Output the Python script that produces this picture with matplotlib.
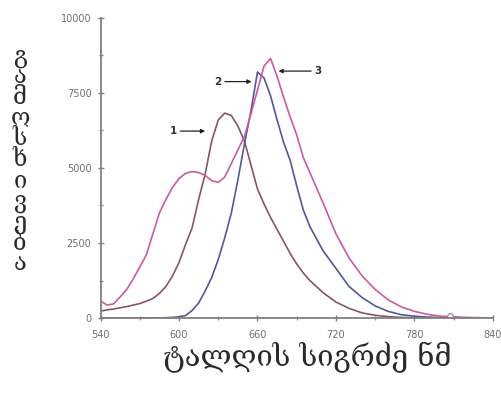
import matplotlib.pyplot as plt
from matplotlib.ticker import MultipleLocator

# --- dados ---
wavelength = [540, 545, 550, 555, 560, 565, 570, 575, 580, 585, 590, 595, 600, 605,
              610, 615, 620, 625, 630, 635, 640, 645, 650, 655, 660, 665, 670, 675,
              680, 685, 690, 695, 700, 710, 720, 730, 740, 750, 760, 770, 780, 790,
              800, 810, 820, 830, 840]

curve1 = [230, 270, 300, 340, 380, 430, 480, 560, 650, 820, 1050, 1400, 1850, 2450,
          3000, 3950, 4800, 5900, 6600, 6830, 6750, 6400, 5900, 5100, 4300, 3800, 3350, 2950,
          2550, 2150, 1800, 1500, 1250, 850, 530, 320, 170, 90, 45, 20, 10, 5,
          5, 5, 5, 5, 5]

curve2 = [0, 0, 0, 0, 0, 0, 0, 0, 0, 5, 10, 20, 40, 80,
          250, 500, 900, 1350, 1950, 2680, 3500, 4600, 5800, 6900, 8200, 8000, 7400, 6600,
          5850, 5250, 4400, 3600, 3050, 2250, 1650, 1050, 680, 400, 220, 110, 60, 30,
          15, 5, 5, 5, 5]

curve3 = [570, 430, 470, 700, 950, 1300, 1700, 2100, 2800, 3500, 3950, 4350, 4650, 4820,
          4880, 4850, 4750, 4580, 4520, 4700, 5150, 5600, 6050, 6800, 7600, 8400, 8650, 8050,
          7350, 6700, 6100, 5350, 4850, 3850, 2800, 2000, 1400, 950, 600, 370, 220, 120,
          60, 40, 20, 10, 5]

marker_x = [807]
marker_y = [60]

labels = ['1', '2', '3']
label_x = [595.5, 630, 706.5]
label_y = [6230, 7880, 8230]
arrow_from = [601, 635, 701]
arrow_to = [620, 655.5, 676]

ylabel_txt = 'გამოსხივება'
xlabel_txt = 'ტალღის სიგრძე ნმ'

fig = plt.figure(figsize=(5.01, 3.99), dpi=100)
ax = fig.add_axes([0.2006, 0.2030, 0.7834, 0.7519])

ax.plot(wavelength, curve1, color='#8a5560', lw=1.2)
ax.plot(wavelength, curve2, color='#55579a', lw=1.2)
ax.plot(wavelength, curve3, color='#cc5aa0', lw=1.2)
ax.plot(marker_x, marker_y, 'o', mfc='white', mec='#b080b0', ms=4, mew=1)

for t, tx, ty, a0, a1 in zip(labels, label_x, label_y, arrow_from, arrow_to):
    ax.text(tx, ty, t, ha='center', va='center', fontsize=7.5, color='#333333',
            fontweight='bold')
    ax.annotate('', xy=(a1, ty), xytext=(a0, ty),
                arrowprops=dict(arrowstyle='-|>', color='#222222', lw=0.9,
                                mutation_scale=6, shrinkA=0, shrinkB=0))

ax.set_xlim(540, 840)
ax.set_ylim(0, 10000)
ax.set_xticks([540, 600, 660, 720, 780, 840])
ax.set_yticks([0, 2500, 5000, 7500, 10000])
ax.xaxis.set_minor_locator(MultipleLocator(30))
ax.yaxis.set_minor_locator(MultipleLocator(1250))

for s in ['top', 'right']:
    ax.spines[s].set_visible(False)
for s in ['left', 'bottom']:
    ax.spines[s].set_color('#808080')
    ax.spines[s].set_linewidth(1.3)

ax.tick_params(which='major', direction='inout', length=5, width=1, color='#808080',
               labelsize=7, labelcolor='#707070', pad=4)
ax.tick_params(axis='x', which='major', pad=6)
ax.tick_params(which='minor', direction='inout', length=3, width=1, color='#909090')

# rótulo vertical: letras em pé, uma por linha
geo = ['DejaVu Serif', 'DejaVu Sans']
fig.text(20 / 501, 1 - 160 / 399, '\n'.join(ylabel_txt), ha='center', va='center',
         fontsize=17, family=geo, color='#2a2a2a', linespacing=0.87)
fig.text(307 / 501, 1 - 357 / 399, xlabel_txt, ha='center', va='center',
         fontsize=21, family=geo, color='#2a2a2a')

fig.savefig('out.png', dpi=100)
